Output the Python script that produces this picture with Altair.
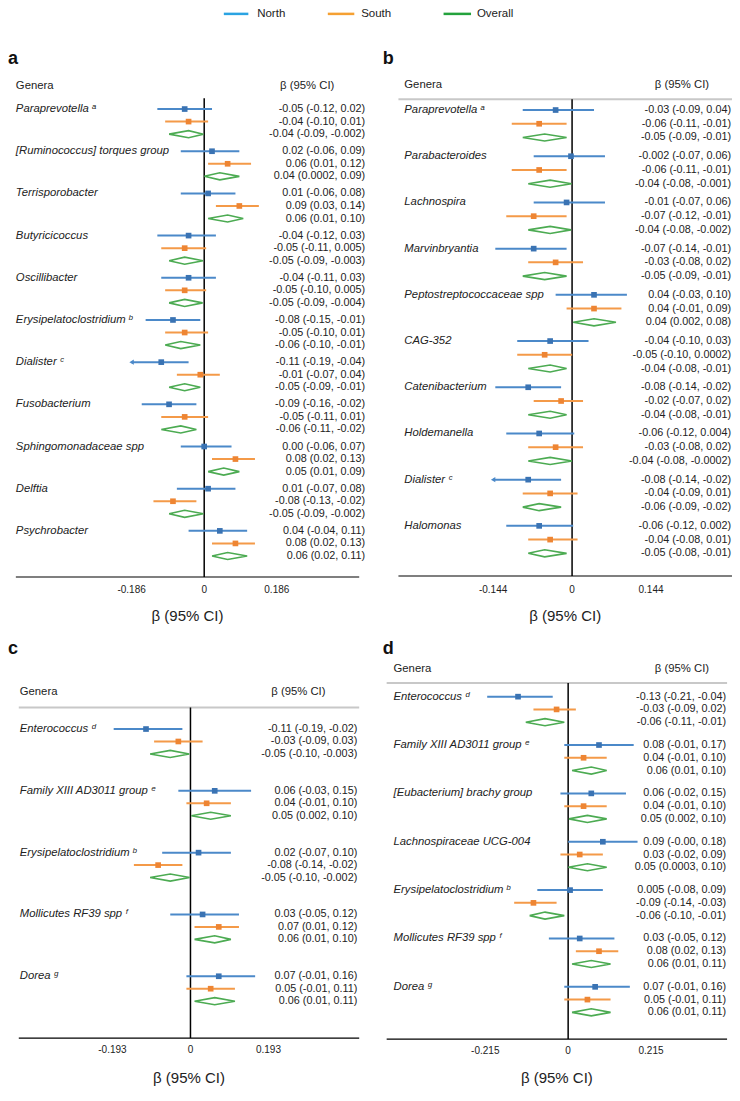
import re
import altair as alt
import pandas as pd

# ---------------------------------------------------------------- data
LEGEND_NAMES = ["North", "South", "Overall"]

A_GENERA = ["Paraprevotella ᵃ", "[Ruminococcus] torques group", "Terrisporobacter",
            "Butyricicoccus", "Oscillibacter", "Erysipelatoclostridium ᵇ", "Dialister ᶜ",
            "Fusobacterium", "Sphingomonadaceae spp", "Delftia", "Psychrobacter"]
A_NORTH = ["-0.05 (-0.12, 0.02)", "0.02 (-0.06, 0.09)", "0.01 (-0.06, 0.08)",
           "-0.04 (-0.12, 0.03)", "-0.04 (-0.11, 0.03)", "-0.08 (-0.15, -0.01)",
           "-0.11 (-0.19, -0.04)", "-0.09 (-0.16, -0.02)", "0.00 (-0.06, 0.07)",
           "0.01 (-0.07, 0.08)", "0.04 (-0.04, 0.11)"]
A_SOUTH = ["-0.04 (-0.10, 0.01)", "0.06 (0.01, 0.12)", "0.09 (0.03, 0.14)",
           "-0.05 (-0.11, 0.005)", "-0.05 (-0.10, 0.005)", "-0.05 (-0.10, 0.01)",
           "-0.01 (-0.07, 0.04)", "-0.05 (-0.11, 0.01)", "0.08 (0.02, 0.13)",
           "-0.08 (-0.13, -0.02)", "0.08 (0.02, 0.13)"]
A_OVERALL = ["-0.04 (-0.09, -0.002)", "0.04 (0.0002, 0.09)", "0.06 (0.01, 0.10)",
             "-0.05 (-0.09, -0.003)", "-0.05 (-0.09, -0.004)", "-0.06 (-0.10, -0.01)",
             "-0.05 (-0.09, -0.01)", "-0.06 (-0.11, -0.02)", "0.05 (0.01, 0.09)",
             "-0.05 (-0.09, -0.002)", "0.06 (0.02, 0.11)"]
A_TICK = 0.186

B_GENERA = ["Paraprevotella ᵃ", "Parabacteroides", "Lachnospira", "Marvinbryantia",
            "Peptostreptococcaceae spp", "CAG-352", "Catenibacterium", "Holdemanella",
            "Dialister ᶜ", "Halomonas"]
B_NORTH = ["-0.03 (-0.09, 0.04)", "-0.002 (-0.07, 0.06)", "-0.01 (-0.07, 0.06)",
           "-0.07 (-0.14, -0.01)", "0.04 (-0.03, 0.10)", "-0.04 (-0.10, 0.03)",
           "-0.08 (-0.14, -0.02)", "-0.06 (-0.12, 0.004)", "-0.08 (-0.14, -0.02)",
           "-0.06 (-0.12, 0.002)"]
B_SOUTH = ["-0.06 (-0.11, -0.01)", "-0.06 (-0.11, -0.01)", "-0.07 (-0.12, -0.01)",
           "-0.03 (-0.08, 0.02)", "0.04 (-0.01, 0.09)", "-0.05 (-0.10, 0.0002)",
           "-0.02 (-0.07, 0.02)", "-0.03 (-0.08, 0.02)", "-0.04 (-0.09, 0.01)",
           "-0.04 (-0.08, 0.01)"]
B_OVERALL = ["-0.05 (-0.09, -0.01)", "-0.04 (-0.08, -0.001)", "-0.04 (-0.08, -0.002)",
             "-0.05 (-0.09, -0.01)", "0.04 (0.002, 0.08)", "-0.04 (-0.08, -0.01)",
             "-0.04 (-0.08, -0.01)", "-0.04 (-0.08, -0.0002)", "-0.06 (-0.09, -0.02)",
             "-0.05 (-0.08, -0.01)"]
B_TICK = 0.144
# Dialister (North) lower limit as drawn: it runs past the plotted range (arrow)
B_NORTH_DRAWN_LOW = {8: -0.146}

C_GENERA = ["Enterococcus ᵈ", "Family XIII AD3011 group ᵉ", "Erysipelatoclostridium ᵇ",
            "Mollicutes RF39 spp ᶠ", "Dorea ᵍ"]
C_NORTH = ["-0.11 (-0.19, -0.02)", "0.06 (-0.03, 0.15)", "0.02 (-0.07, 0.10)",
           "0.03 (-0.05, 0.12)", "0.07 (-0.01, 0.16)"]
C_SOUTH = ["-0.03 (-0.09, 0.03)", "0.04 (-0.01, 0.10)", "-0.08 (-0.14, -0.02)",
           "0.07 (0.01, 0.12)", "0.05 (-0.01, 0.11)"]
C_OVERALL = ["-0.05 (-0.10, -0.003)", "0.05 (0.002, 0.10)", "-0.05 (-0.10, -0.002)",
             "0.06 (0.01, 0.10)", "0.06 (0.01, 0.11)"]
C_TICK = 0.193

D_GENERA = ["Enterococcus ᵈ", "Family XIII AD3011 group ᵉ", "[Eubacterium] brachy group",
            "Lachnospiraceae UCG-004", "Erysipelatoclostridium ᵇ", "Mollicutes RF39 spp ᶠ",
            "Dorea ᵍ"]
D_NORTH = ["-0.13 (-0.21, -0.04)", "0.08 (-0.01, 0.17)", "0.06 (-0.02, 0.15)",
           "0.09 (-0.00, 0.18)", "0.005 (-0.08, 0.09)", "0.03 (-0.05, 0.12)",
           "0.07 (-0.01, 0.16)"]
D_SOUTH = ["-0.03 (-0.09, 0.02)", "0.04 (-0.01, 0.10)", "0.04 (-0.01, 0.10)",
           "0.03 (-0.02, 0.09)", "-0.09 (-0.14, -0.03)", "0.08 (0.02, 0.13)",
           "0.05 (-0.01, 0.11)"]
D_OVERALL = ["-0.06 (-0.11, -0.01)", "0.06 (0.01, 0.10)", "0.05 (0.002, 0.10)",
             "0.05 (0.0003, 0.10)", "-0.06 (-0.10, -0.01)", "0.06 (0.01, 0.11)",
             "0.06 (0.01, 0.11)"]
D_TICK = 0.215

# ---------------------------------------------------------------- style / layout
FONT = "Liberation Sans"
LEGEND_COLORS = ["#2aa3e2", "#f5a032", "#24a23c"]
N_LINE, N_SQ = "#4b89c9", "#3a73b3"
S_LINE, S_SQ = "#f49a48", "#ee8533"
O_COL = "#4cab52"
DIAMOND_HALF = 3.6  # px (reference scale)

W, H = 724, 1080
S = 0.981


def P(x):
    return (x - 2.0) * S


def Q(y):
    return y * S


PANELS = [
    dict(key="a", genera=A_GENERA, north=A_NORTH, south=A_SOUTH, overall=A_OVERALL,
         tick=A_TICK, low_override={},
         left=10, right=360, zero=202, ppu=398, first=103, step=43.0, row=12.8,
         letter_x=2, letter_y=57, text_x=10, head_y=80, head_ci_x=307, head_rule_y=None,
         zero_top=92, axis_y=580, tick_y=593, title_y=620, ci_right=366),
    dict(key="b", genera=B_GENERA, north=B_NORTH, south=B_SOUTH, overall=B_OVERALL,
         tick=B_TICK, low_override=B_NORTH_DRAWN_LOW,
         left=400, right=740, zero=577, ppu=559, first=104, step=47.1, row=14.0,
         letter_x=384, letter_y=57, text_x=406, head_y=79, head_ci_x=689, head_rule_y=93,
         zero_top=93, axis_y=579, tick_y=593, title_y=620, ci_right=739),
    dict(key="c", genera=C_GENERA, north=C_NORTH, south=C_SOUTH, overall=C_OVERALL,
         tick=C_TICK, low_override={},
         left=13, right=360, zero=188, ppu=412, first=735, step=63.0, row=12.7,
         letter_x=2, letter_y=659, text_x=14, head_y=697, head_ci_x=298, head_rule_y=713,
         zero_top=713, axis_y=1050, tick_y=1062, title_y=1091, ci_right=358),
    dict(key="d", genera=D_GENERA, north=D_NORTH, south=D_SOUTH, overall=D_OVERALL,
         tick=D_TICK, low_override={},
         left=388, right=735, zero=573, ppu=393, first=702, step=49.3, row=13.0,
         letter_x=384, letter_y=659, text_x=395, head_y=674, head_ci_x=689, head_rule_y=688,
         zero_top=688, axis_y=1051, tick_y=1063, title_y=1091, ci_right=734),
]


def parse(s):
    v = [float(t) for t in re.findall(r"-?\d*\.?\d+", s)]
    return v[0], v[1], v[2]


ONE = pd.DataFrame({"k": [0]})
layers = []

# legend
LEG_LINES = [(222, 247, 256), (328, 355, 362), (446, 474, 480)]
for name, col, (x0, x1, tx) in zip(LEGEND_NAMES, LEGEND_COLORS, LEG_LINES):
    dfl = pd.DataFrame({"name": [name]})
    layers.append(alt.Chart(dfl).mark_rule(color=col, strokeWidth=2.5).encode(
        x=alt.value(P(x0)), x2=alt.value(P(x1)), y=alt.value(Q(6))))
    layers.append(alt.Chart(dfl).mark_text(font=FONT, fontSize=11.5, align="left",
                                           baseline="middle", color="#222").encode(
        x=alt.value(P(tx)), y=alt.value(Q(6)), text="name:N"))

for p in PANELS:
    dmin = (p["left"] - p["zero"]) / p["ppu"]
    dmax = (p["right"] - p["zero"]) / p["ppu"]
    xs = alt.Scale(domain=[dmin, dmax], range=[P(p["left"]), P(p["right"])],
                   nice=False, zero=False)
    n = len(p["genera"])
    g = p["step"] / p["row"]
    uend = (n - 1) * g + 2
    ys = alt.Scale(domain=[0, uend],
                   range=[Q(p["first"]), Q(p["first"] + (n - 1) * p["step"] + 2 * p["row"])],
                   nice=False, zero=False)
    t = p["tick"]

    rows = []
    for i, name in enumerate(p["genera"]):
        for j, (series, arr) in enumerate([("North", p["north"]), ("South", p["south"]),
                                           ("Overall", p["overall"])]):
            est, lo, hi = parse(arr[i])
            if series == "North" and i in p["low_override"]:
                lo = p["low_override"][i]
            rows.append(dict(gi=i, genus=name, series=series, est=est, lo=lo, hi=hi,
                             lo_d=max(lo, -t), hi_d=min(hi, t), clipped=bool(lo < -t),
                             u=i * g + j, label=arr[i], edge=-t))
    df = pd.DataFrame(rows)

    X = lambda f, xs=xs: alt.X(f, scale=xs, axis=None)
    Y = lambda f, ys=ys: alt.Y(f, scale=ys, axis=None)

    # header
    layers.append(alt.Chart(ONE).mark_text(text=p["key"], font=FONT, fontSize=18,
                                           fontWeight="bold", align="left",
                                           baseline="alphabetic", color="#111").encode(
        x=alt.value(P(p["letter_x"])), y=alt.value(Q(p["letter_y"]))))
    layers.append(alt.Chart(ONE).mark_text(text="Genera", font=FONT, fontSize=11.3,
                                           align="left", baseline="middle",
                                           color="#222").encode(
        x=alt.value(P(p["text_x"])), y=alt.value(Q(p["head_y"]))))
    layers.append(alt.Chart(ONE).mark_text(text="β (95% CI)", font=FONT, fontSize=11.3,
                                           align="center", baseline="middle",
                                           color="#222").encode(
        x=alt.value(P(p["head_ci_x"])), y=alt.value(Q(p["head_y"]))))
    ends = pd.DataFrame({"x0": [dmin], "x1": [dmax]})
    if p["head_rule_y"] is not None:
        layers.append(alt.Chart(ends).mark_rule(color="#c8c8c8", strokeWidth=2).encode(
            x=X("x0:Q"), x2="x1:Q", y=alt.value(Q(p["head_rule_y"]))))

    # zero line and axis
    layers.append(alt.Chart(pd.DataFrame({"z": [0.0]})).mark_rule(
        color="#000", strokeWidth=1.5).encode(
        x=X("z:Q"), y=alt.value(Q(p["zero_top"])), y2=alt.value(Q(p["axis_y"]))))
    layers.append(alt.Chart(ends).mark_rule(color="#000", strokeWidth=1.2).encode(
        x=X("x0:Q"), x2="x1:Q", y=alt.value(Q(p["axis_y"]))))
    ticks = pd.DataFrame({"t": [-t, 0.0, t], "lab": [f"{-t:g}", "0", f"{t:g}"]})
    layers.append(alt.Chart(ticks).mark_text(font=FONT, fontSize=10, align="center",
                                             baseline="middle", color="#222").encode(
        x=X("t:Q"), y=alt.value(Q(p["tick_y"])), text="lab:N"))
    layers.append(alt.Chart(ONE).mark_text(text="β (95% CI)", font=FONT, fontSize=15,
                                           align="center", baseline="middle",
                                           color="#222").encode(
        x=alt.value(P((p["left"] + p["right"]) / 2)), y=alt.value(Q(p["title_y"]))))

    # CIs and point estimates
    for series, lc, mc in [("North", N_LINE, N_SQ), ("South", S_LINE, S_SQ)]:
        d = df[df["series"] == series]
        layers.append(alt.Chart(d).mark_rule(color=lc, strokeWidth=2).encode(
            x=X("lo_d:Q"), x2="hi_d:Q", y=Y("u:Q")))
        layers.append(alt.Chart(d).mark_square(color=mc, size=32, opacity=1).encode(
            x=X("est:Q"), y=Y("u:Q")))
        dc = d[d["clipped"]]
        if len(dc):
            layers.append(alt.Chart(dc).mark_point(shape="triangle-left", filled=True,
                                                   color=lc, size=26, opacity=1).encode(
                x=X("edge:Q"), y=Y("u:Q")))

    # overall diamonds
    h = DIAMOND_HALF / p["row"]
    dd = []
    for r in df[df["series"] == "Overall"].itertuples():
        pts = [(r.lo, r.u), (r.est, r.u - h), (r.hi, r.u), (r.est, r.u + h), (r.lo, r.u)]
        for k, (xv, yv) in enumerate(pts):
            dd.append(dict(did=r.gi, k=k, dx=xv, dy=yv))
    layers.append(alt.Chart(pd.DataFrame(dd)).mark_line(color=O_COL, strokeWidth=1.6).encode(
        x=X("dx:Q"), y=Y("dy:Q"), detail="did:N", order="k:Q"))

    # row texts
    layers.append(alt.Chart(df[df["series"] == "North"]).mark_text(
        font=FONT, fontSize=11.3, fontStyle="italic", align="left", baseline="middle",
        color="#222").encode(x=alt.value(P(p["text_x"])), y=Y("u:Q"), text="genus:N"))
    layers.append(alt.Chart(df).mark_text(
        font=FONT, fontSize=10.8, align="right", baseline="middle",
        color="#222").encode(x=alt.value(P(p["ci_right"])), y=Y("u:Q"), text="label:N"))

chart = (
    alt.layer(*layers)
    .resolve_scale(x="independent", y="independent")
    .properties(width=W, height=H, padding=0, autosize=alt.AutoSizeParams(type="none"))
    .configure_view(stroke=None)
)

chart.save("out.html", embed_options={"renderer": "svg", "actions": False})
